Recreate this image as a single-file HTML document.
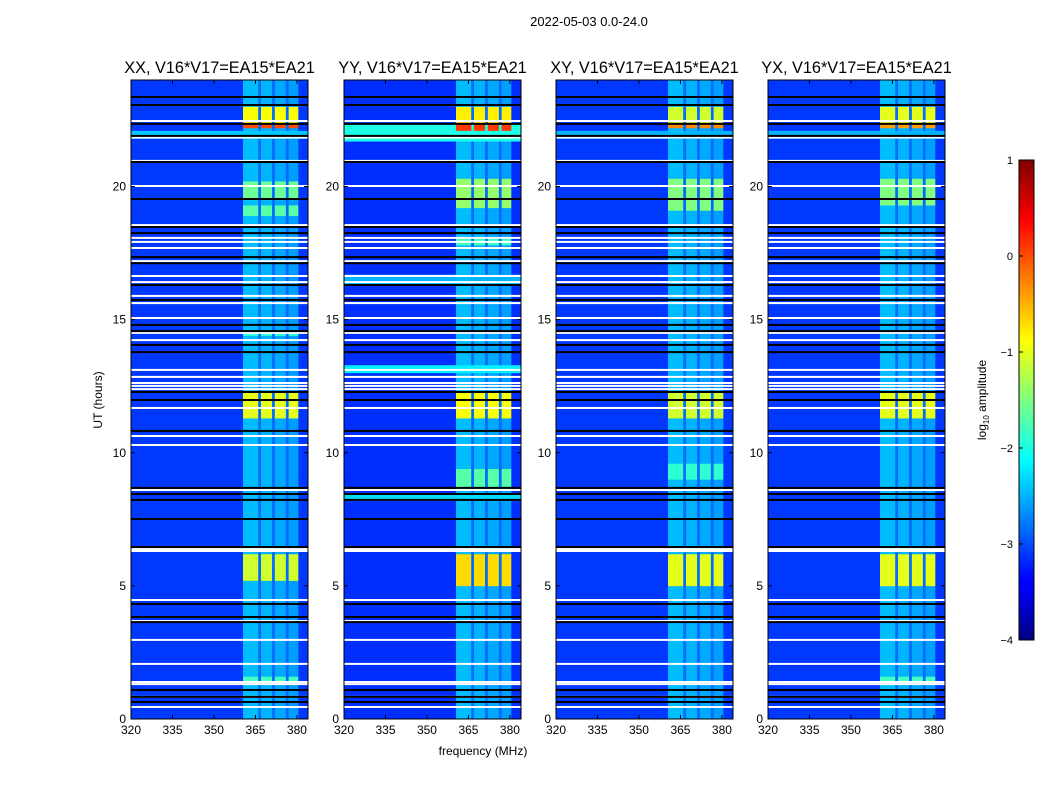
<!DOCTYPE html>
<html><head><meta charset="utf-8">
<style>
body{margin:0;background:#fff;width:1050px;height:800px;overflow:hidden;font-family:"Liberation Sans",sans-serif}
svg text{font-family:"Liberation Sans",sans-serif}
</style></head>
<body>
<svg id="fig" width="1050" height="800" xmlns="http://www.w3.org/2000/svg">
<text x="589" y="26" font-size="13" text-anchor="middle">2022-05-03 0.0-24.0</text>
<text x="483" y="755" font-size="12" text-anchor="middle">frequency (MHz)</text>
<text transform="translate(102,400) rotate(-90)" font-size="12" text-anchor="middle">UT (hours)</text>
<defs>
<linearGradient id="jet" x1="0" y1="1" x2="0" y2="0">
<stop offset="0" stop-color="#00007f"/><stop offset="0.11" stop-color="#0000ff"/><stop offset="0.125" stop-color="#0000ff"/>
<stop offset="0.375" stop-color="#00ffff"/><stop offset="0.5" stop-color="#7fff7f"/><stop offset="0.625" stop-color="#ffff00"/>
<stop offset="0.875" stop-color="#ff0000"/><stop offset="1" stop-color="#7f0000"/></linearGradient>
</defs>
<g id="cbar">
<rect x="1019" y="160" width="15" height="480" fill="url(#jet)" stroke="#000" stroke-width="1"/>
<text transform="translate(986,400) rotate(-90)" font-size="12" text-anchor="middle">log<tspan font-size="8" dy="3">10</tspan><tspan dy="-3"> amplitude</tspan></text>
</g>
</svg>
<script>
const panelTitles=["XX, V16*V17=EA15*EA21","YY, V16*V17=EA15*EA21","XY, V16*V17=EA15*EA21","YX, V16*V17=EA15*EA21"];
const panelX=[131,344,556,768];
const xTicks=[320,335,350,365,380];
const yTicks=[0,5,10,15,20];
const cbarTicks=[1,0,-1,-2,-3,-4];
const baseLevel=[-3.1,-3.15,-3.1,-3.1];
// RFI sub-bands [startMHz,endMHz,level]
const bandLevels=[[360.5,366,-2.45],[366,367,-2.85],[367,371,-2.5],[371,372,-2.85],[372,376,-2.55],[376,377,-2.85],[377,380.5,-2.6]];
// burst periods inside RFI band [startHour,endHour,level]
const bursts=[
 [[22.45,23.0,-0.9],[22.2,22.4,0.0],[19.5,20.2,-1.6],[18.9,19.3,-1.7],[11.3,12.3,-1.0],[5.2,6.2,-1.1],[1.4,1.6,-1.8],[14.4,14.6,-1.9]],
 [[22.45,23.0,-0.8],[22.1,22.4,0.1],[19.2,20.3,-1.4],[11.3,12.3,-0.9],[5.0,6.2,-0.7],[8.6,9.4,-1.7],[17.8,18.1,-1.8]],
 [[22.45,23.0,-1.1],[22.2,22.4,-0.3],[19.1,20.3,-1.5],[11.3,12.3,-1.1],[5.0,6.2,-1.0],[9.0,9.6,-1.9]],
 [[22.45,23.0,-1.0],[22.2,22.4,-0.4],[19.3,20.3,-1.5],[11.3,12.3,-1.0],[5.0,6.2,-1.0],[1.4,1.6,-1.8]]
];
// broadband events across all channels [startHour,endHour,level]
const broadband=[
 [[21.8,22.1,-2.4]],
 [[21.75,22.45,-2.0],[16.3,16.7,-2.5],[13.0,13.3,-2.2],[8.2,8.5,-2.3]],
 [[21.8,22.1,-2.5]],
 [[21.8,22.1,-2.5]]
];
const whiteFlags=[22.46,21.84,20.96,20.02,18.55,18.07,17.92,17.69,17.2,16.64,16.41,15.89,15.62,15.06,14.5,14.23,13.11,12.85,12.62,12.51,12.39,11.68,10.63,10.29,8.6,6.38,6.31,4.47,3.68,2.97,2.07,1.39,1.31,0.83,0.45];
const blackFlags=[23.36,23.06,22.35,21.9,20.92,19.53,18.48,18.25,17.35,17.12,16.3,15.74,14.8,14.57,14.05,13.78,12.28,11.98,10.82,8.68,8.45,8.23,7.51,6.46,4.32,3.83,3.64,1.09,0.83,0.64];

const NS="http://www.w3.org/2000/svg";
const svg=document.getElementById('fig');
const PW=177,PT=80,PB=719,F0=320,F1=384,H1=24;
const yS=h=>PB-(h/H1)*(PB-PT);
function jet(v){let t=Math.max(0,Math.min(1,(v+4)/5));const c=x=>Math.round(255*Math.max(0,Math.min(1,1.5-Math.abs(x))));return `rgb(${c(4*t-3)},${c(4*t-2)},${c(4*t-1)})`;}
function mk(tag,attrs,parent){const e=document.createElementNS(NS,tag);for(const k in attrs)e.setAttribute(k,attrs[k]);(parent||svg).appendChild(e);return e;}
const dH=0.1,dF=0.5;
panelX.forEach((px,p)=>{
 const xS=f=>px+(f-F0)/(F1-F0)*PW;
 const g=mk('g',{});
 
 
 const hm=mk('g',{},g);
 
 
 for(let h=0;h<H1-1e-9;h+=dH){
  const hc=h+dH/2;let run=null;
  const flush=()=>{if(run){const r=mk('rect',{x:xS(run.f0).toFixed(2),y:yS(h+dH).toFixed(2),width:(xS(run.f1)-xS(run.f0)+0.3).toFixed(2),height:((PB-PT)*dH/H1+0.3).toFixed(2),fill:run.c},hm);}};
  for(let f=F0;f<F1-1e-9;f+=dF){
   const fc=f+dF/2;let v=baseLevel[p];
   broadband[p].forEach(b=>{if(hc>=b[0]&&hc<b[1])v=Math.max(v,b[2]);});
   let inBand=null;bandLevels.forEach(b=>{if(fc>=b[0]&&fc<b[1])inBand=b;});
   if(inBand){v=Math.max(v,inBand[2]);if(inBand[2]>-2.8)bursts[p].forEach(b=>{if(hc>=b[0]&&hc<b[1])v=Math.max(v,b[2]);});}
   const c=jet(v);
   if(run&&run.c===c){run.f1=f+dF;}else{flush();run={f0:f,f1:f+dF,c:c};}
  }
  flush();
 }
 whiteFlags.forEach(h=>{const r=mk('rect',{x:px,y:(yS(h)-1).toFixed(1),width:PW,height:2,fill:'#fff'},g);});
 blackFlags.forEach(h=>{const r=mk('rect',{x:px,y:(yS(h)-1).toFixed(1),width:PW,height:2,fill:'#000'},g);});
 const fr=mk('rect',{x:px,y:PT,width:PW,height:PB-PT,fill:'none',stroke:'#000','stroke-width':1},g);
 
 const t=mk('text',{x:px+PW/2,y:73,'font-size':16.3,'text-anchor':'middle'},g);t.textContent=panelTitles[p];
 
 xTicks.forEach(v=>{const x=xS(v);mk('line',{x1:x,x2:x,y1:PB,y2:PB-4,stroke:'#000'},g);mk('line',{x1:x,x2:x,y1:PT,y2:PT+4,stroke:'#000'},g);
  const l=mk('text',{x:x,y:PB+15,'font-size':12,'text-anchor':'middle'},g);l.textContent=v;});
 yTicks.forEach(v=>{const y=yS(v);mk('line',{x1:px,x2:px+4,y1:y,y2:y,stroke:'#000'},g);mk('line',{x1:px+PW,x2:px+PW-4,y1:y,y2:y,stroke:'#000'},g);
  const l=mk('text',{x:px-5,y:y+4,'font-size':12,'text-anchor':'end'},g);l.textContent=v;});
});
const cb=document.getElementById('cbar');
cbarTicks.forEach(v=>{const y=160+(1-v)/5*480;mk('line',{x1:1019,x2:1023,y1:y,y2:y,stroke:'#000'},cb);
 const l=mk('text',{x:1013,y:y+4,'font-size':11,'text-anchor':'end'},cb);l.textContent=v<0?'\u2212'+(-v):String(v);});
</script>
</body></html>
